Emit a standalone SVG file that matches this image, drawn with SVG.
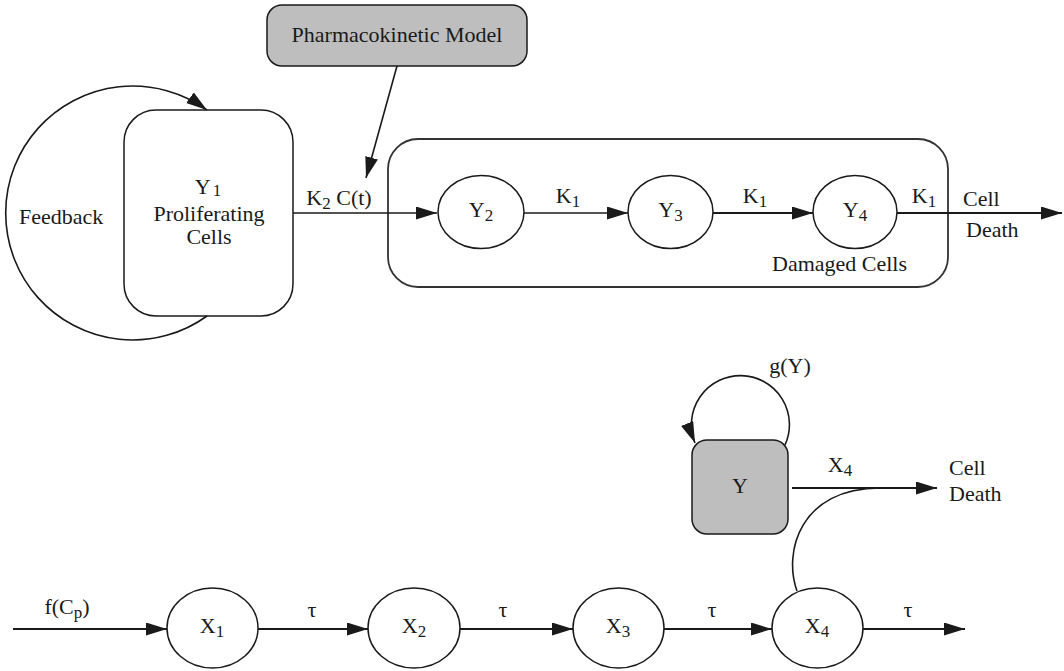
<svg xmlns="http://www.w3.org/2000/svg" width="1064" height="671" viewBox="0 0 1064 671">
<style>
text{font-family:"Liberation Serif","Times New Roman",serif;font-size:22px;fill:#1a1a1a}
.sub{font-size:17px}
.n{fill:#fff;stroke:#1a1a1a;stroke-width:1.5}
.g{fill:#bebebe;stroke:#1a1a1a;stroke-width:1.5}
.e{fill:none;stroke:#1a1a1a;stroke-width:1.6}
.t{stroke-width:2.2}
</style>
<defs>
<marker id="ah" markerUnits="userSpaceOnUse" markerWidth="22" markerHeight="14" refX="21" refY="6.5" orient="auto">
<path d="M0,0 L21,6.5 L0,13 Z" fill="#1a1a1a"/>
</marker>
</defs>
<rect width="1064" height="671" fill="#fff"/>

<g id="pk"><rect class="g" x="267" y="5" width="260" height="61" rx="15"/><text x="397" y="42" text-anchor="middle">Pharmacokinetic Model</text></g>
<g id="y1"><rect class="n" x="124" y="110" width="169" height="206" rx="32"/>
<text x="208" y="194" text-anchor="middle">Y<tspan class="sub" dx="2" dy="2">1</tspan></text>
<text x="209" y="221" text-anchor="middle">Proliferating</text>
<text x="209" y="244" text-anchor="middle">Cells</text></g>
<g id="damaged"><rect x="388" y="139" width="560" height="148" rx="30" fill="none" stroke="#333" stroke-width="1.8"/>
<text x="772" y="271">Damaged Cells</text></g>
<g id="y2"><ellipse class="n" cx="481" cy="212" rx="43" ry="36.5"/><text x="481" y="217" text-anchor="middle">Y<tspan class="sub" dy="4">2</tspan></text></g>
<g id="y3"><ellipse class="n" cx="670.5" cy="212" rx="42.5" ry="36.5"/><text x="670.5" y="217" text-anchor="middle">Y<tspan class="sub" dy="4">3</tspan></text></g>
<g id="y4"><ellipse class="n" cx="855" cy="212" rx="42" ry="36.5"/><text x="855" y="217" text-anchor="middle">Y<tspan class="sub" dy="4">4</tspan></text></g>
<g id="y"><rect class="g" x="692" y="440" width="96" height="94" rx="15"/><text x="740" y="493" text-anchor="middle">Y</text></g>
<g id="x1"><ellipse class="n" cx="212.5" cy="628" rx="45.5" ry="40"/><text x="212" y="633" text-anchor="middle">X<tspan class="sub" dy="4">1</tspan></text></g>
<g id="x2"><ellipse class="n" cx="414" cy="628" rx="46" ry="40"/><text x="414" y="633" text-anchor="middle">X<tspan class="sub" dy="4">2</tspan></text></g>
<g id="x3"><ellipse class="n" cx="618.5" cy="628" rx="45.5" ry="40"/><text x="618" y="633" text-anchor="middle">X<tspan class="sub" dy="4">3</tspan></text></g>
<g id="x4"><ellipse class="n" cx="817.5" cy="628" rx="45.5" ry="40"/><text x="817" y="633" text-anchor="middle">X<tspan class="sub" dy="4">4</tspan></text></g>

<g id="connectors">
<path class="e" d="M207,316 A127,127 0 1 1 207,110" marker-end="url(#ah)"/>
<path class="e" d="M397,66 L366,178" marker-end="url(#ah)"/>
<path class="e" d="M293,213 L437,213" marker-end="url(#ah)"/>
<path class="e" d="M524,213 L628,213" marker-end="url(#ah)"/>
<path class="e t" d="M713,213 L813,213" marker-end="url(#ah)"/>
<path class="e t" d="M897,213 L1062,213" marker-end="url(#ah)"/>
<path class="e" d="M785,445 A49,49 0 1 0 695,443" marker-end="url(#ah)"/>
<path class="e t" d="M792,488 L937,488" marker-end="url(#ah)"/>
<path class="e" d="M797,591 C783,552 800,488 880,488"/>
<path class="e t" d="M13,629 L167,629" marker-end="url(#ah)"/>
<path class="e t" d="M258,629 L368,629" marker-end="url(#ah)"/>
<path class="e t" d="M460,629 L573,629" marker-end="url(#ah)"/>
<path class="e t" d="M664,629 L772,629" marker-end="url(#ah)"/>
<path class="e t" d="M863,629 L965,629" marker-end="url(#ah)"/>
</g>

<g id="labels">
<text x="19" y="224">Feedback</text>
<text x="339" y="205" text-anchor="middle">K<tspan class="sub" dy="4">2</tspan><tspan dy="-4"> C(t)</tspan></text>
<text x="568" y="203" text-anchor="middle">K<tspan class="sub" dy="4">1</tspan></text>
<text x="755" y="203" text-anchor="middle">K<tspan class="sub" dy="4">1</tspan></text>
<text x="924" y="203" text-anchor="middle">K<tspan class="sub" dy="4">1</tspan></text>
<text x="963" y="206">Cell</text>
<text x="966" y="237">Death</text>
<text x="790" y="373" text-anchor="middle">g(Y)</text>
<text x="840" y="472" text-anchor="middle">X<tspan class="sub" dy="4">4</tspan></text>
<text x="949" y="475">Cell</text>
<text x="949" y="501">Death</text>
<text x="67" y="614" text-anchor="middle">f(C<tspan class="sub" dy="4">p</tspan><tspan dy="-4">)</tspan></text>
<text x="312" y="617" text-anchor="middle">τ</text>
<text x="503" y="617" text-anchor="middle">τ</text>
<text x="712" y="617" text-anchor="middle">τ</text>
<text x="908" y="617" text-anchor="middle">τ</text>
</g>
</svg>
